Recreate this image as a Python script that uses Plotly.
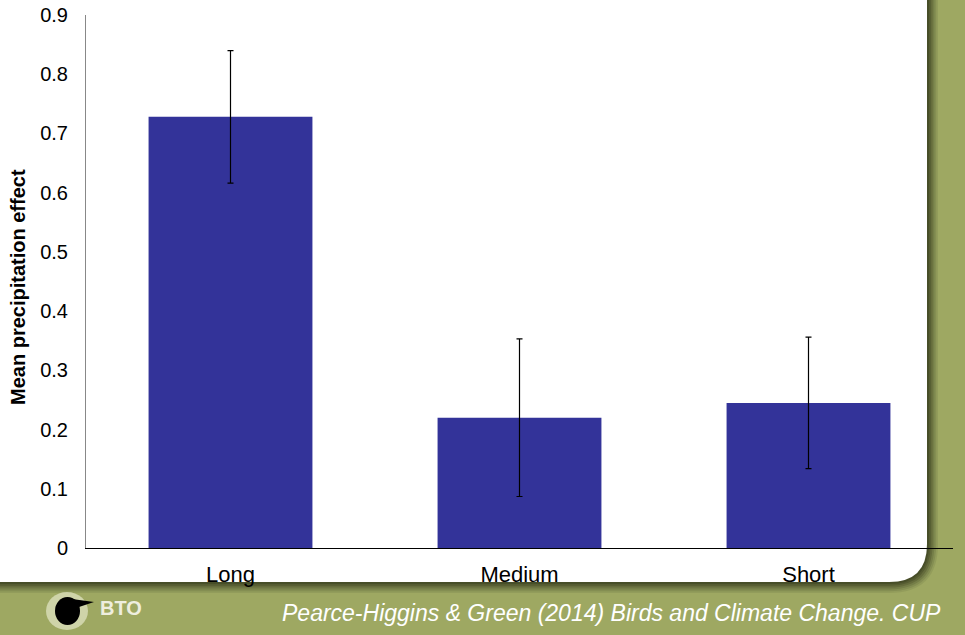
import plotly.graph_objects as go

# Mean precipitation effect by migration distance class
categories = ["Long", "Medium", "Short"]
mean_effect = [0.728, 0.220, 0.245]
std_error = [0.112, 0.133, 0.111]
y_ticks = [0, 0.1, 0.2, 0.3, 0.4, 0.5, 0.6, 0.7, 0.8, 0.9]

W, H = 965, 635
L, R, T, B = 86, 12, 15, 87
PW, PH = W - L - R, H - T - B

GREEN = "#9ea862"
BAR = "#333399"
FONT = "Liberation Sans, Arial"


def px(x):
    return (x - L) / PW


def py(y):
    return (H - B - y) / PH


def panel_path(right, bottom, r):
    # rounded bottom-right corner, square elsewhere (extends off the top/left)
    pts = [
        f"M {px(-5)} {py(-5)}",
        f"L {px(right)} {py(-5)}",
        f"L {px(right)} {py(bottom - r)}",
        f"Q {px(right)} {py(bottom)} {px(right - r)} {py(bottom)}",
        f"L {px(-5)} {py(bottom)}",
        "Z",
    ]
    return " ".join(pts)


fig = go.Figure()

fig.add_trace(
    go.Bar(
        x=categories,
        y=mean_effect,
        marker=dict(color=BAR, line=dict(width=0)),
        error_y=dict(type="data", array=std_error, visible=True,
                     color="black", thickness=1.2, width=3),
        hoverinfo="x+y",
    )
)

shapes = []
# soft shadow around the white panel
for i, op in enumerate([0.10, 0.14, 0.18, 0.24, 0.30, 0.38]):
    off = 11 - i * 1.8
    shapes.append(dict(
        type="path", xref="paper", yref="paper", layer="below",
        path=panel_path(927 + off, 582 + off, 38 + off),
        fillcolor=f"rgba(50,55,25,{op})", line=dict(width=0),
    ))
# white panel
shapes.append(dict(
    type="path", xref="paper", yref="paper", layer="below",
    path=panel_path(927, 582, 38),
    fillcolor="white", line=dict(width=0),
))

# BTO logo: glow and bird head
shapes.append(dict(
    type="circle", xref="paper", yref="paper", layer="above",
    x0=px(46), x1=px(88), y0=py(630), y1=py(592),
    fillcolor="rgba(255,255,240,0.5)", line=dict(width=0),
))
shapes.append(dict(
    type="circle", xref="paper", yref="paper", layer="above",
    x0=px(55), x1=px(80), y0=py(625), y1=py(597),
    fillcolor="black", line=dict(width=0),
))
shapes.append(dict(
    type="path", xref="paper", yref="paper", layer="above",
    path=f"M {px(72)} {py(599)} L {px(94)} {py(602)} L {px(76)} {py(608)} Z",
    fillcolor="black", line=dict(width=0),
))

annotations = [
    dict(
        text="<b>Mean precipitation effect</b>", textangle=-90,
        xref="paper", yref="paper", x=px(18), y=py(287),
        xanchor="center", yanchor="middle", showarrow=False,
        font=dict(family=FONT, size=20, color="black"),
    ),
    dict(
        text="<i>Pearce-Higgins &amp; Green (2014) Birds and Climate Change. CUP</i>",
        xref="paper", yref="paper", x=px(280), y=py(613),
        xanchor="left", yanchor="middle", showarrow=False,
        font=dict(family=FONT, size=23, color="white"),
    ),
    dict(
        text="<b>BTO</b>",
        xref="paper", yref="paper", x=px(98), y=py(608),
        xanchor="left", yanchor="middle", showarrow=False,
        font=dict(family=FONT, size=20, color="#eeeedf"),
    ),
]

fig.update_layout(
    width=W, height=H,
    margin=dict(l=L, r=R, t=T, b=B, pad=0),
    paper_bgcolor=GREEN,
    plot_bgcolor="rgba(0,0,0,0)",
    bargap=0.433,
    showlegend=False,
    font=dict(family=FONT, size=16, color="black"),
    shapes=shapes,
    annotations=annotations,
    xaxis=dict(
        showline=True, linecolor="black", linewidth=1.3,
        ticks="", showgrid=False, zeroline=False, automargin=False,
        ticklabelstandoff=6,
        tickfont=dict(family=FONT, size=22, color="black"),
    ),
    yaxis=dict(
        range=[0, 0.9], tickvals=y_ticks,
        ticktext=[f"{v:g}" for v in y_ticks],
        showline=True, linecolor="#888888", linewidth=1,
        ticks="", showgrid=False, zeroline=False, automargin=False,
        ticklabelstandoff=13,
        tickfont=dict(family=FONT, size=20, color="black"),
    ),
)

fig.write_html("out.html")
